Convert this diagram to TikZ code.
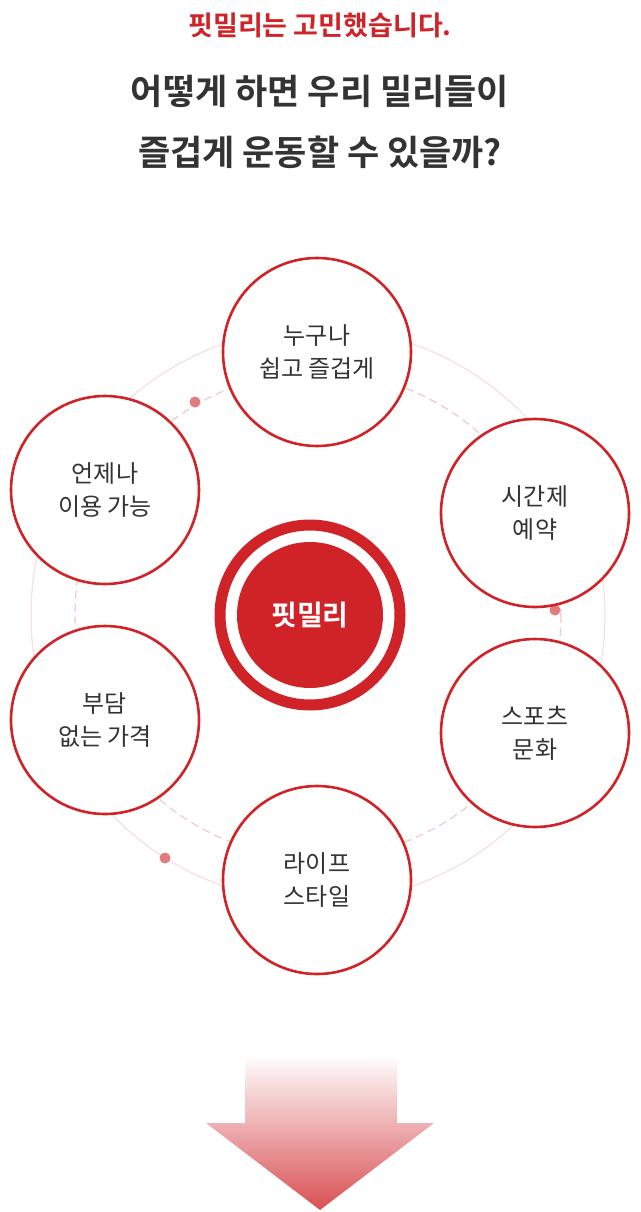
\documentclass[tikz,border=0pt]{standalone}
\usepackage{fontspec}
\setmainfont{Noto Sans CJK KR}
\newfontfamily\krbold{Noto Sans CJK KR Bold}
\definecolor{fitred}{HTML}{CF2328}
\definecolor{fittext}{HTML}{333333}
\tikzset{
  topic/.style={circle, draw=fitred, line width=2.6pt, fill=white, minimum size=188pt,
    inner sep=0pt, align=center, font=\fontsize{24}{33}\selectfont, text=fittext},
  ringdot/.style={circle, fill=fitred!60, inner sep=0pt, minimum size=11pt}
}
\begin{document}
\begin{tikzpicture}[x=1pt, y=-1pt]
\useasboundingbox (0,0) rectangle (640,1212);

% titles
\node (head) at (320,25) {\krbold\fontsize{27}{32}\selectfont\color{fitred}핏밀리는 고민했습니다.};
\node (q1) at (320,91) {\krbold\fontsize{35}{40}\selectfont\color{fittext}어떻게 하면 우리 밀리들이};
\node (q2) at (320,152) {\krbold\fontsize{35}{40}\selectfont\color{fittext}즐겁게 운동할 수 있을까?};

% rings
\draw[fitred!15, line width=1.2pt] (318,615) circle (287);
\draw[fitred!25, line width=1.2pt, dash pattern=on 8pt off 5pt] (318,615) circle (243);
\node[ringdot] (d1) at (195,402) {};
\node[ringdot] (d2) at (555,610) {};
\node[ringdot] (d3) at (165,858) {};

% topics
\node[topic] (easy) at (317,352) {누구나\\쉽고 즐겁게};
\node[topic] (time) at (535,513) {시간제\\예약};
\node[topic] (sport) at (535,733) {스포츠\\문화};
\node[topic] (life) at (317,880) {라이프\\스타일};
\node[topic] (cost) at (105,720) {부담\\없는 가격};
\node[topic] (always) at (105,490) {언제나\\이용 가능};

% centre
\node[circle, draw=fitred, line width=11pt, fill=white, minimum size=180pt] (hubring) at (310,615) {};
\node[circle, fill=fitred, minimum size=146pt, text=white,
  font=\krbold\fontsize{28}{34}\selectfont] (hub) at (310,615) {핏밀리};

% arrow
\shade[top color=white, bottom color=fitred!80]
  (245,1055) -- (397,1055) -- (397,1123) -- (434,1123) -- (320,1210)
  -- (206,1123) -- (245,1123) -- cycle;
\end{tikzpicture}
\end{document}
